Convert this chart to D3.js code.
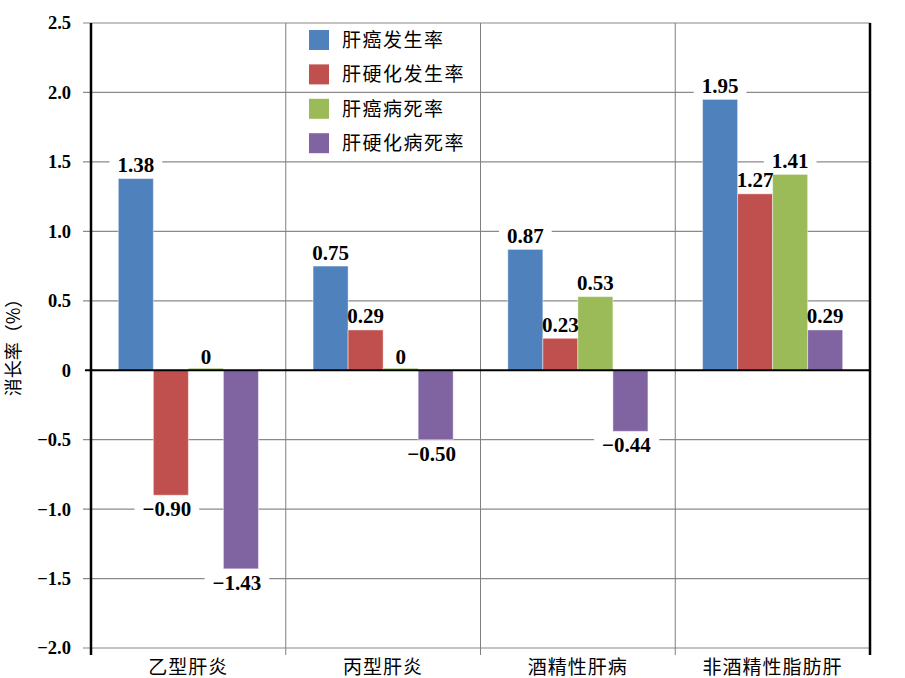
<!DOCTYPE html>
<html>
<head>
<meta charset="utf-8">
<script src="https://cdn.jsdelivr.net/npm/d3@7"></script>
<style>
  body { margin: 0; background: #fff; }
</style>
</head>
<body>
<div id="chart"></div>
<script>
var width = 905;
var height = 678;

// categories and series
var categories = ["乙型肝炎", "丙型肝炎", "酒精性肝病", "非酒精性脂肪肝"];
var seriesNames = ["肝癌发生率", "肝硬化发生率", "肝癌病死率", "肝硬化病死率"];
var seriesColors = ["#4F81BD", "#C0504D", "#9BBB59", "#8064A2"];

// values per series, in category order
var liverCancerIncidence = [1.38, 0.75, 0.87, 1.95];
var cirrhosisIncidence = [-0.90, 0.29, 0.23, 1.27];
var liverCancerMortality = [0, 0, 0.53, 1.41];
var cirrhosisMortality = [-1.43, -0.50, -0.44, 0.29];

var yTicks = [2.5, 2.0, 1.5, 1.0, 0.5, 0, -0.5, -1.0, -1.5, -2.0];

var seriesValues = [liverCancerIncidence, cirrhosisIncidence, liverCancerMortality, cirrhosisMortality];

var margin = {left: 91, right: 35, top: 23, bottom: 30};
var plotRight = width - margin.right;
var plotBottom = height - margin.bottom;

var svg = d3.select("#chart")
    .append("svg")
    .attr("width", width)
    .attr("height", height);

var y = d3.scaleLinear()
    .domain([-2.0, 2.5])
    .range([plotBottom, margin.top]);

var x0 = d3.scaleBand()
    .domain(categories)
    .range([margin.left, plotRight]);

var x1 = d3.scaleBand()
    .domain(seriesNames)
    .range([0, x0.bandwidth()])
    .paddingOuter(0.78);

// flatten to one record per bar
var bars = [];
categories.forEach(function(c, ci) {
    seriesNames.forEach(function(s, si) {
        bars.push({cat: c, series: s, si: si, value: seriesValues[si][ci]});
    });
});

function fmt(v) {
    if (v == 0) return "0";
    var s = Math.abs(v).toFixed(2);
    return v < 0 ? "\u2212" + s : s;
}

// gridlines
svg.selectAll("line.grid")
    .data(yTicks.filter(function(t) { return t != 0; }))
    .enter()
    .append("line")
    .attr("class", "grid")
    .attr("x1", margin.left - 8)
    .attr("x2", plotRight)
    .attr("y1", function(d) { return y(d); })
    .attr("y2", function(d) { return y(d); })
    .attr("stroke", "#8a8a8a")
    .attr("stroke-width", 1.2);

// category separators
svg.selectAll("line.sep")
    .data(categories.slice(1))
    .enter()
    .append("line")
    .attr("class", "sep")
    .attr("x1", function(d) { return x0(d); })
    .attr("x2", function(d) { return x0(d); })
    .attr("y1", margin.top)
    .attr("y2", plotBottom + 7)
    .attr("stroke", "#7f7f7f")
    .attr("stroke-width", 1);

// y tick labels
svg.selectAll("text.ytick")
    .data(yTicks)
    .enter()
    .append("text")
    .attr("class", "ytick")
    .attr("x", margin.left - 20)
    .attr("y", function(d) { return y(d); })
    .attr("dy", "0.35em")
    .attr("text-anchor", "end")
    .style("font-family", "'Liberation Serif', 'Times New Roman', serif")
    .style("font-weight", "bold")
    .style("font-size", "18.5px")
    .text(function(d) { return d == 0 ? "0" : (d < 0 ? "\u2212" + Math.abs(d).toFixed(1) : d.toFixed(1)); });

// label positions
var labelFont = 21;
function labelX(d) { return x0(d.cat) + x1(d.series) + x1.bandwidth() / 2 - (d.value < 0 ? 4 : 0); }
function labelY(d) { return d.value >= 0 ? y(d.value) - 6.5 : y(d.value) + 21; }

// label backgrounds cut the gridlines, bars are drawn over them
var labels = svg.append("g");
labels.selectAll("text")
    .data(bars)
    .enter()
    .append("text")
    .attr("x", labelX)
    .attr("y", labelY)
    .attr("text-anchor", "middle")
    .style("font-family", "'Liberation Serif', 'Times New Roman', serif")
    .style("font-weight", "bold")
    .style("font-size", labelFont + "px")
    .text(function(d) { return fmt(d.value); })
    .each(function(d) { d.box = this.getBBox(); });

svg.insert("g", function() { return labels.node(); })
    .selectAll("rect")
    .data(bars)
    .enter()
    .append("rect")
    .attr("x", function(d) { return d.box.x - 8; })
    .attr("y", function(d) { return d.box.y; })
    .attr("width", function(d) { return d.box.width + 16; })
    .attr("height", function(d) { return d.box.height; })
    .attr("fill", "#fff");

labels.remove();

// bars
svg.selectAll("rect.bar")
    .data(bars)
    .enter()
    .append("rect")
    .attr("class", "bar")
    .attr("x", function(d) { return x0(d.cat) + x1(d.series); })
    .attr("y", function(d) { return d.value == 0 ? y(0) - 2 : Math.min(y(d.value), y(0)); })
    .attr("width", x1.bandwidth())
    .attr("height", function(d) { return d.value == 0 ? 2 : Math.abs(y(d.value) - y(0)); })
    .attr("fill", function(d) { return seriesColors[d.si]; })
    .attr("stroke", "rgba(255,255,255,0.45)")
    .attr("stroke-width", 1);

// zero line and axes
svg.append("line")
    .attr("x1", margin.left - 6)
    .attr("x2", plotRight)
    .attr("y1", y(0))
    .attr("y2", y(0))
    .attr("stroke", "black")
    .attr("stroke-width", 2);

[margin.left, plotRight].forEach(function(xx) {
    svg.append("line")
        .attr("x1", xx)
        .attr("x2", xx)
        .attr("y1", margin.top)
        .attr("y2", plotBottom + 7)
        .attr("stroke", "black")
        .attr("stroke-width", 2.5);
});

// value labels on top
svg.append("g")
    .selectAll("text")
    .data(bars)
    .enter()
    .append("text")
    .attr("x", labelX)
    .attr("y", labelY)
    .attr("text-anchor", "middle")
    .style("font-family", "'Liberation Serif', 'Times New Roman', serif")
    .style("font-weight", "bold")
    .style("font-size", labelFont + "px")
    .text(function(d) { return fmt(d.value); });

// category labels
svg.selectAll("text.cat")
    .data(categories)
    .enter()
    .append("text")
    .attr("class", "cat")
    .attr("x", function(d) { return x0(d) + x0.bandwidth() / 2; })
    .attr("y", plotBottom + 26)
    .attr("text-anchor", "middle")
    .style("font-family", "'Noto Sans CJK SC', sans-serif")
    .style("font-size", "19px")
    .style("letter-spacing", "1px")
    .text(function(d) { return d; });

// y axis title
svg.append("text")
    .attr("transform", "translate(20," + 343 + ") rotate(-90)")
    .attr("text-anchor", "middle")
    .style("font-family", "'Noto Sans CJK SC', sans-serif")
    .style("font-size", "18px")
    .text("消长率（%）");

// legend
var legend = svg.selectAll("g.legend")
    .data(seriesNames)
    .enter()
    .append("g")
    .attr("class", "legend")
    .attr("transform", function(d, i) { return "translate(309," + (30 + i * 34.4) + ")"; });

legend.append("rect")
    .attr("width", 20)
    .attr("height", 20)
    .attr("fill", function(d, i) { return seriesColors[i]; });

legend.append("text")
    .attr("x", 33)
    .attr("y", 10)
    .attr("dy", "0.36em")
    .style("font-family", "'Noto Sans CJK SC', sans-serif")
    .style("font-size", "19px")
    .style("letter-spacing", "1.5px")
    .text(function(d) { return d; });
</script>
</body>
</html>
